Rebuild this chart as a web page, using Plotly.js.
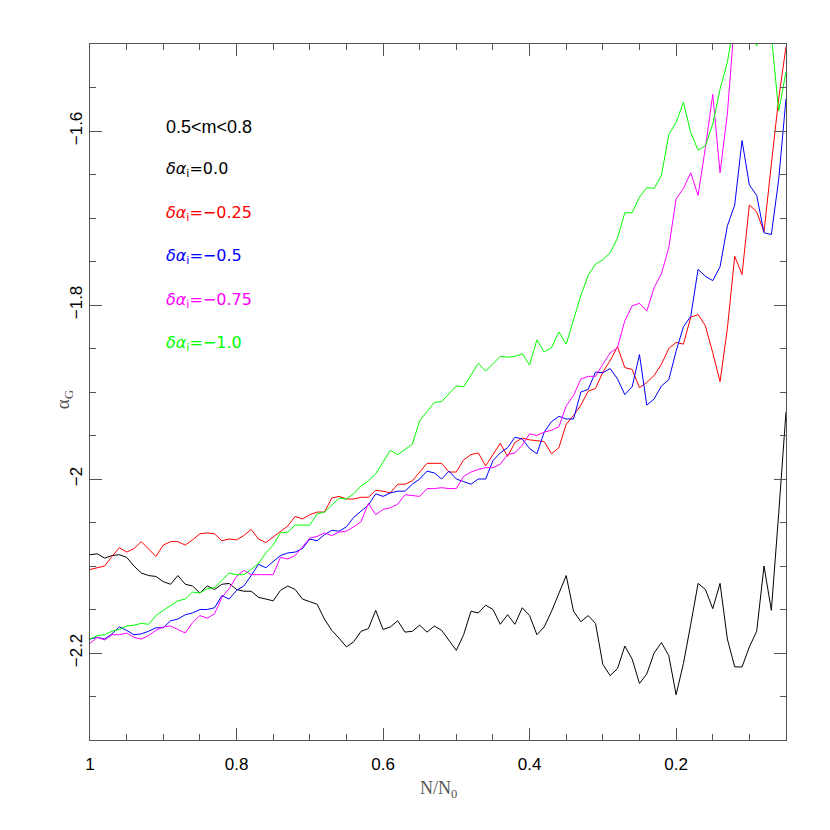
<!DOCTYPE html>
<html>
<head>
<meta charset="utf-8">
<script src="https://cdn.plot.ly/plotly-3.0.1.min.js"></script>
<style>html,body{margin:0;padding:0;background:#fff;}#chart{width:830px;height:830px;}</style>
</head>
<body>
<div id="chart"></div>
<script>
// N/N0 values (x axis, decreasing)
const N = [1.00,0.99,0.98,0.97,0.96,0.95,0.94,0.93,0.92,0.91,0.90,0.89,0.88,0.87,0.86,0.85,0.84,0.83,0.82,0.81,
0.80,0.79,0.78,0.77,0.76,0.75,0.74,0.73,0.72,0.71,0.70,0.69,0.68,0.67,0.66,0.65,0.64,0.63,0.62,0.61,
0.60,0.59,0.58,0.57,0.56,0.55,0.54,0.53,0.52,0.51,0.50,0.49,0.48,0.47,0.46,0.45,0.44,0.43,0.42,0.41,
0.40,0.39,0.38,0.37,0.36,0.35,0.34,0.33,0.32,0.31,0.30,0.29,0.28,0.27,0.26,0.25,0.24,0.23,0.22,0.21,
0.20,0.19,0.18,0.17,0.16,0.15,0.14,0.13,0.12,0.11,0.10,0.09,0.08,0.07,0.06,0.05];

// alpha_G for delta alpha_i = 0.0
const a00 = [-2.087,-2.086,-2.091,-2.088,-2.087,-2.090,-2.100,-2.108,-2.111,-2.112,-2.118,-2.121,-2.111,-2.121,-2.123,-2.131,-2.123,-2.127,-2.121,-2.120,
-2.127,-2.129,-2.129,-2.136,-2.138,-2.140,-2.128,-2.123,-2.127,-2.138,-2.141,-2.144,-2.161,-2.174,-2.183,-2.193,-2.187,-2.175,-2.172,-2.151,
-2.173,-2.170,-2.163,-2.176,-2.175,-2.168,-2.176,-2.169,-2.174,-2.186,-2.197,-2.179,-2.152,-2.154,-2.145,-2.150,-2.167,-2.156,-2.167,-2.148,
-2.157,-2.179,-2.170,-2.152,-2.132,-2.111,-2.152,-2.164,-2.157,-2.166,-2.213,-2.226,-2.218,-2.192,-2.207,-2.235,-2.224,-2.200,-2.188,-2.203,
-2.248,-2.212,-2.167,-2.120,-2.127,-2.149,-2.120,-2.184,-2.216,-2.216,-2.193,-2.175,-2.100,-2.151,-2.040,-1.923];

// delta alpha_i = -0.25
const a025 = [-2.104,-2.102,-2.100,-2.089,-2.079,-2.084,-2.080,-2.072,-2.080,-2.089,-2.076,-2.072,-2.072,-2.076,-2.070,-2.063,-2.062,-2.063,-2.071,-2.069,
-2.070,-2.065,-2.058,-2.069,-2.073,-2.067,-2.060,-2.054,-2.043,-2.046,-2.041,-2.038,-2.038,-2.022,-2.020,-2.023,-2.023,-2.021,-2.021,-2.013,
-2.014,-2.016,-2.006,-2.006,-2.002,-1.992,-1.982,-1.982,-1.982,-1.992,-1.992,-1.978,-1.972,-1.970,-1.985,-1.972,-1.959,-1.974,-1.958,-1.953,
-1.955,-1.956,-1.957,-1.971,-1.964,-1.937,-1.927,-1.915,-1.899,-1.896,-1.877,-1.864,-1.848,-1.872,-1.874,-1.895,-1.889,-1.881,-1.868,-1.850,
-1.843,-1.845,-1.814,-1.811,-1.824,-1.855,-1.888,-1.827,-1.744,-1.765,-1.685,-1.693,-1.716,-1.638,-1.563,-1.503];

// delta alpha_i = -0.5
const a050 = [-2.184,-2.182,-2.184,-2.178,-2.170,-2.174,-2.179,-2.178,-2.175,-2.171,-2.171,-2.163,-2.161,-2.156,-2.154,-2.150,-2.150,-2.148,-2.134,-2.138,
-2.128,-2.123,-2.111,-2.098,-2.102,-2.095,-2.088,-2.085,-2.084,-2.080,-2.069,-2.071,-2.064,-2.059,-2.060,-2.055,-2.044,-2.037,-2.030,-2.017,
-2.020,-2.016,-2.014,-2.014,-2.006,-2.000,-1.991,-1.993,-2.000,-1.991,-2.000,-2.003,-2.006,-2.000,-2.000,-1.979,-1.970,-1.964,-1.952,-1.954,
-1.965,-1.971,-1.946,-1.934,-1.928,-1.931,-1.931,-1.900,-1.897,-1.877,-1.878,-1.873,-1.885,-1.903,-1.894,-1.857,-1.915,-1.908,-1.893,-1.886,
-1.853,-1.825,-1.813,-1.759,-1.767,-1.772,-1.756,-1.709,-1.685,-1.611,-1.662,-1.674,-1.717,-1.719,-1.656,-1.563];

// delta alpha_i = -0.75
const a075 = [-2.189,-2.182,-2.185,-2.179,-2.179,-2.177,-2.182,-2.184,-2.180,-2.174,-2.170,-2.169,-2.173,-2.177,-2.165,-2.157,-2.160,-2.155,-2.136,-2.126,
-2.112,-2.105,-2.110,-2.110,-2.110,-2.110,-2.090,-2.092,-2.088,-2.078,-2.068,-2.066,-2.062,-2.065,-2.061,-2.060,-2.055,-2.049,-2.028,-2.041,
-2.035,-2.033,-2.029,-2.018,-2.019,-2.020,-2.011,-2.011,-2.010,-2.011,-2.011,-1.997,-1.992,-1.989,-1.987,-1.987,-1.983,-1.972,-1.970,-1.961,
-1.948,-1.950,-1.946,-1.944,-1.940,-1.916,-1.904,-1.885,-1.882,-1.882,-1.868,-1.855,-1.849,-1.818,-1.801,-1.798,-1.807,-1.780,-1.764,-1.734,
-1.678,-1.666,-1.648,-1.674,-1.619,-1.558,-1.648,-1.580,-1.470];

// delta alpha_i = -1.0
const a100 = [-2.184,-2.180,-2.179,-2.175,-2.173,-2.169,-2.168,-2.166,-2.167,-2.157,-2.151,-2.146,-2.140,-2.138,-2.130,-2.131,-2.126,-2.125,-2.117,-2.108,
-2.110,-2.110,-2.104,-2.097,-2.085,-2.076,-2.062,-2.061,-2.053,-2.053,-2.053,-2.040,-2.038,-2.030,-2.022,-2.023,-2.017,-2.008,-2.002,-1.994,
-1.980,-1.967,-1.972,-1.966,-1.960,-1.933,-1.922,-1.912,-1.911,-1.902,-1.893,-1.894,-1.881,-1.867,-1.876,-1.867,-1.859,-1.860,-1.859,-1.856,
-1.869,-1.840,-1.854,-1.849,-1.831,-1.845,-1.818,-1.789,-1.766,-1.753,-1.748,-1.740,-1.723,-1.694,-1.694,-1.676,-1.665,-1.666,-1.651,-1.604,
-1.590,-1.567,-1.602,-1.622,-1.617,-1.592,-1.552,-1.521,-1.470,-1.460,-1.480,-1.502,-1.470,-1.490,-1.577,-1.532];

const seriesY = [a00, a025, a050, a075, a100];
const seriesColor = ['#000000', '#ff0000', '#0000ff', '#ff00ff', '#00ff00'];
const labelText = ['0.0', '−0.25', '−0.5', '−0.75', '−1.0'];

const traces = seriesY.map((ys, k) => ({
  type: 'scatter', mode: 'lines',
  x: N.slice(0, ys.length), y: ys,
  line: {color: seriesColor[k], width: 1},
  hoverinfo: 'skip', showlegend: false
}));

const annFontY = [0.819, 0.757, 0.694, 0.632, 0.570];
const annotations = [{
  xref: 'paper', yref: 'paper', x: 0.106, y: 0.8807, xanchor: 'left', yanchor: 'middle',
  text: '0.5&lt;m&lt;0.8', showarrow: false,
  font: {family: 'Liberation Sans, Arial, sans-serif', size: 18, color: '#000'}
}];
labelText.forEach((t, k) => annotations.push({
  xref: 'paper', yref: 'paper', x: 0.106, y: annFontY[k], xanchor: 'left', yanchor: 'middle',
  text: '<i>δα</i><sub>i</sub>=' + t, showarrow: false,
  font: {family: 'DejaVu Sans, sans-serif', size: 16, color: seriesColor[k]}
}));
// axis titles
annotations.push({
  xref: 'paper', yref: 'paper', x: 0.5, y: -0.0718, xanchor: 'center', yanchor: 'middle',
  text: 'N/N<sub>0</sub>', showarrow: false,
  font: {family: 'Liberation Serif, serif', size: 18, color: '#555'}
});
annotations.push({
  xref: 'paper', yref: 'paper', x: -0.037, y: 0.49, xanchor: 'center', yanchor: 'middle',
  text: 'α<sub>G</sub>', showarrow: false, textangle: -90,
  font: {family: 'Liberation Serif, serif', size: 19, color: '#555'}
});

const axisCommon = {
  showgrid: false, zeroline: false, showline: true, linecolor: '#555', linewidth: 1,
  mirror: 'ticks', ticks: 'inside', ticklen: 12, tickwidth: 1, tickcolor: '#555',
  minor: {ticks: 'inside', ticklen: 6, tickwidth: 1, tickcolor: '#555', dtick: 0.05, showgrid: false},
  tickfont: {family: 'Liberation Sans, Arial, sans-serif', size: 17, color: '#000'},
  tick0: 0, dtick: 0.2
};

const layout = {
  width: 830, height: 830,
  margin: {l: 90, r: 44, t: 44, b: 90},
  paper_bgcolor: '#fff', plot_bgcolor: '#fff',
  showlegend: false,
  xaxis: Object.assign({}, axisCommon, {
    range: [1, 0.05], ticklabelstandoff: 9
  }),
  yaxis: Object.assign({}, axisCommon, {
    range: [-2.3, -1.5], tickangle: -90
  }),
  annotations: annotations
};

Plotly.newPlot('chart', traces, layout, {displayModeBar: false, staticPlot: true});
</script>
</body>
</html>
